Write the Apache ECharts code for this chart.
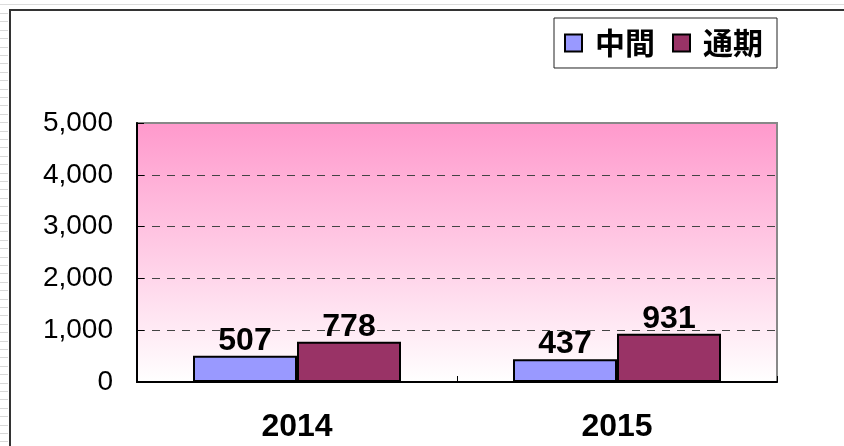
<!DOCTYPE html>
<html><head><meta charset="utf-8">
<script src="https://cdn.jsdelivr.net/npm/echarts@6/dist/echarts.min.js"></script>
<style>html,body{margin:0;padding:0;background:#fff}#c{width:844px;height:446px}</style>
</head><body><div id="c"></div>
<script>
const categories = ['2014', '2015'];
const seriesNames = ['中間', '通期'];
const interimValues = [507, 437];
const fullYearValues = [778, 931];
const yTicks = [0, 1000, 2000, 3000, 4000, 5000];

const numFont = 'Liberation Sans, Arial, sans-serif';
const cjkFont = 'Noto Sans CJK JP, sans-serif';

// decorative spreadsheet row lines on the left strip
const deco = [];
for (let y = 13; y < 446; y += 8.4) {
  deco.push({type:'line', shape:{x1:0,y1:Math.round(y)+0.5,x2:8,y2:Math.round(y)+0.5}, style:{stroke:'#d8d8d8',lineWidth:1}, silent:true});
}
deco.push({type:'line', shape:{x1:0,y1:4.5,x2:844,y2:4.5}, style:{stroke:'#dcdcdc',lineWidth:1}, silent:true});
deco.push({type:'rect', shape:{x:10,y:10,width:900,height:600}, style:{fill:'none',stroke:'#333',lineWidth:2}, silent:true});

const chart = echarts.init(document.getElementById('c'), null, {renderer:'canvas'});
chart.setOption({
  animation: false,
  backgroundColor: '#fff',
  graphic: deco,
  legend: {
    data: seriesNames,
    right: 67, top: 18,
    icon: 'rect',
    itemWidth: 17, itemHeight: 17, itemGap: 17,
    itemStyle: {borderColor: '#000', borderWidth: 2},
    padding: [10, 14, 10, 10],
    borderColor: '#222', borderWidth: 1,
    backgroundColor: '#fff',
    textStyle: {fontFamily: cjkFont, fontWeight: 'bold', fontSize: 30, color: '#000', padding:[0,0,0,8]}
  },
  grid: {
    left: 137, right: 67, top: 123, bottom: 64,
    show: true, borderColor: '#888', borderWidth: 2,
    backgroundColor: {type:'linear', x:0, y:0, x2:0, y2:1,
      colorStops:[{offset:0,color:'#FF99CC'},{offset:1,color:'#FFFFFF'}]},
    containLabel: false
  },
  xAxis: {
    type: 'category', data: categories,
    axisLine: {lineStyle:{color:'#000', width:2}},
    axisTick: {show:true, inside:true, length:6, lineStyle:{color:'#000', width:1}},
    axisLabel: {fontFamily: numFont, fontWeight:'bold', fontSize: 32, color:'#000', margin: 29}
  },
  yAxis: {
    type: 'value', min: yTicks[0], max: yTicks[yTicks.length-1], interval: 1000,
    axisLine: {show:true, lineStyle:{color:'#000', width:2}},
    axisTick: {show:true, inside:true, length:7, lineStyle:{color:'#000', width:1}},
    axisLabel: {fontFamily: numFont, fontSize: 28, color:'#000', margin: 24,
      formatter: v => v.toLocaleString('en-US')},
    splitLine: {show:true, showMinLine:false, showMaxLine:false,
      lineStyle:{color:'#444', width:1, type:[8,7]}}
  },
  series: [
    {name: seriesNames[0], type:'bar', data: interimValues, barGap: '0%', barCategoryGap: '35%',
     itemStyle:{color:'#9999FF', borderColor:'#000', borderWidth:2},
     label:{show:true, position:'top', distance:-1, fontFamily:numFont, fontWeight:'bold', fontSize:32, color:'#000'}},
    {name: seriesNames[1], type:'bar', data: fullYearValues, barGap: '0%', barCategoryGap: '35%',
     itemStyle:{color:'#993366', borderColor:'#000', borderWidth:2},
     label:{show:true, position:'top', distance:-1, fontFamily:numFont, fontWeight:'bold', fontSize:32, color:'#000'}}
  ]
});
</script></body></html>
